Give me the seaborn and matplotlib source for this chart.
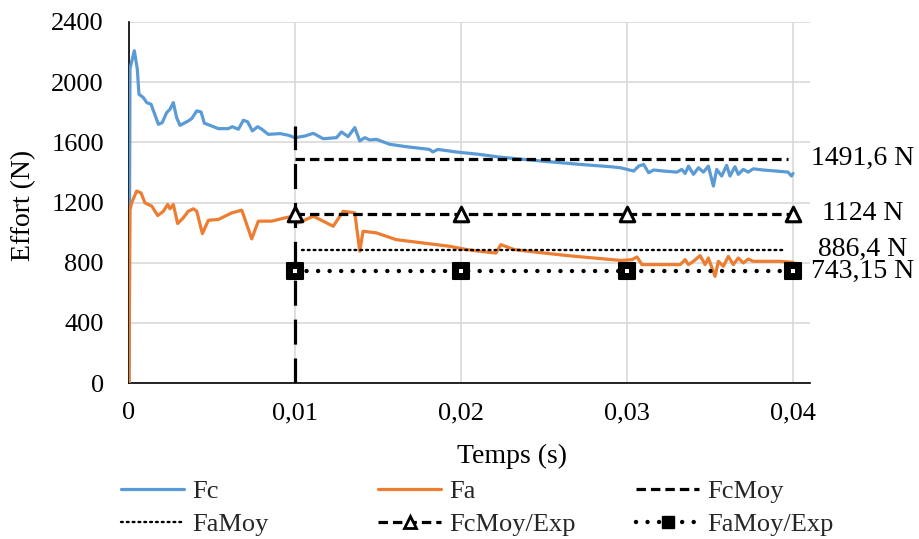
import matplotlib
matplotlib.use("Agg")
import matplotlib.pyplot as plt
from matplotlib.lines import Line2D
import seaborn as sns
import pandas as pd

# ---------------- data ----------------
fc_t = [0, 0.00006, 0.00032, 0.0005, 0.0006, 0.00086, 0.00107, 0.00133, 0.00177, 0.002,
        0.00227, 0.00247, 0.00267, 0.00287, 0.00307, 0.00357, 0.00378, 0.00408, 0.00434, 0.00454,
        0.00488, 0.00538, 0.00598, 0.00622, 0.00659, 0.00689, 0.00715, 0.00743, 0.00775, 0.008,
        0.00839, 0.0091, 0.0096, 0.01, 0.0106, 0.0111, 0.0117, 0.0125, 0.0128, 0.0132,
        0.0136, 0.0139, 0.0142, 0.0145, 0.0149, 0.0157, 0.0167, 0.0181, 0.0183, 0.0186,
        0.0197, 0.0211, 0.0223, 0.0248, 0.0272, 0.029, 0.0296, 0.0304, 0.0307, 0.031,
        0.0313, 0.0316, 0.0322, 0.033, 0.0333, 0.0335, 0.0337, 0.034, 0.0343, 0.0346,
        0.0349, 0.0352, 0.0354, 0.0357, 0.036, 0.0362, 0.0365, 0.0367, 0.037, 0.0373,
        0.0376, 0.0382, 0.039, 0.0397, 0.0399, 0.04]
fc_v = [0, 2090, 2209, 2087, 1920, 1898, 1864, 1853, 1720, 1731,
        1798, 1820, 1864, 1764, 1713, 1742, 1758, 1809, 1802, 1727,
        1713, 1691, 1691, 1704, 1687, 1747, 1736, 1676, 1704, 1687,
        1653, 1658, 1647, 1631, 1642, 1660, 1624, 1631, 1669, 1638,
        1698, 1609, 1631, 1616, 1620, 1587, 1571, 1553, 1536, 1553,
        1536, 1520, 1502, 1476, 1453, 1438, 1431, 1409, 1442, 1453,
        1398, 1416, 1409, 1402, 1420, 1393, 1442, 1387, 1431, 1402,
        1442, 1309, 1420, 1376, 1447, 1376, 1438, 1387, 1420, 1402,
        1424, 1416, 1409, 1402, 1376, 1393]

fa_t = [0, 0.00006, 0.00016, 0.00046, 0.00072, 0.00096, 0.00116, 0.00137, 0.00173, 0.00207,
        0.00233, 0.00247, 0.00267, 0.00293, 0.00327, 0.00357, 0.00388, 0.00408, 0.00442, 0.00478,
        0.00538, 0.00619, 0.00679, 0.00699, 0.00739, 0.00779, 0.0086, 0.0094, 0.0099, 0.0102,
        0.0111, 0.0123, 0.0129, 0.0136, 0.0139, 0.0141, 0.0149, 0.0161, 0.0177, 0.0193,
        0.0203, 0.0211, 0.0221, 0.0224, 0.0232, 0.025, 0.0264, 0.028, 0.0296, 0.0303,
        0.0306, 0.0309, 0.032, 0.0332, 0.0335, 0.0337, 0.034, 0.0344, 0.0347, 0.0349,
        0.0353, 0.0355, 0.0358, 0.0361, 0.0364, 0.0367, 0.037, 0.0373, 0.0376, 0.0384,
        0.0392, 0.04]
fa_v = [0, 1150, 1198, 1276, 1264, 1198, 1187, 1176, 1113, 1142,
        1187, 1158, 1187, 1060, 1098, 1142, 1158, 1142, 993, 1082,
        1087, 1131, 1149, 1087, 958, 1076, 1076, 1098, 1109, 1064,
        1109, 1042, 1142, 1131, 876, 1009, 998, 953, 931, 909,
        888, 876, 864, 920, 887, 864, 847, 831, 815, 820,
        838, 787, 787, 787, 820, 787, 809, 847, 787, 831,
        709, 809, 776, 842, 787, 831, 798, 824, 809, 809,
        809, 802]

fc_moy = 1491.6
fa_moy = 886.4
fc_moy_exp = 1124
fa_moy_exp = 743.15
moy_t = [0.01, 0.0397]
famoy_t = [0.0104, 0.0395]
exp_t = [0.01, 0.02, 0.03, 0.04]
marker_t = [0.01, 1710]

x_ticks = [0, 0.01, 0.02, 0.03, 0.04]
x_tick_labels = ["0", "0,01", "0,02", "0,03", "0,04"]
y_ticks = [0, 400, 800, 1200, 1600, 2000, 2400]
value_labels = ["1491,6 N", "1124 N", "886,4 N", "743,15 N"]
value_levels = [fc_moy, fc_moy_exp, fa_moy, fa_moy_exp]
series_names = ["Fc", "Fa", "FcMoy", "FaMoy", "FcMoy/Exp", "FaMoy/Exp"]

# ---------------- style ----------------
sns.set_theme(style="white")
plt.rcParams["font.family"] = ["Liberation Serif", "DejaVu Serif"]
plt.rcParams["lines.scale_dashes"] = False

BLUE = "#5B9BD5"
ORANGE = "#ED7D31"
FS = 19

W, H = 920, 539
fig = plt.figure(figsize=(W / 100, H / 100), dpi=100)
ax = fig.add_axes([129 / W, 1 - 383 / H, (810 - 129) / W, (383 - 22) / H])

DASH = (0, (6.8, 3.6))
DOT_SMALL = (0, (1.3, 2.9))
DOT_BIG = (0, (0.01, 8.3))

df_fc = pd.DataFrame({"t": fc_t, "v": fc_v})
df_fa = pd.DataFrame({"t": fa_t, "v": fa_v})
sns.lineplot(data=df_fc, x="t", y="v", ax=ax, color=BLUE, lw=2.3, sort=False, estimator=None, zorder=3)
sns.lineplot(data=df_fa, x="t", y="v", ax=ax, color=ORANGE, lw=2.3, sort=False, estimator=None, zorder=3)

# vertical marker line at 0.01
sns.lineplot(x=[exp_t[0], exp_t[0]], y=[0, marker_t[1]], ax=ax, color="black", lw=2.3,
             linestyle=(0, (18, 10)), sort=False, estimator=None, zorder=4)

# mean lines
sns.lineplot(x=moy_t, y=[fc_moy] * 2, ax=ax, color="black", lw=2.3, linestyle=DASH,
             sort=False, estimator=None, zorder=4)
sns.lineplot(x=famoy_t, y=[fa_moy] * 2, ax=ax, color="black", lw=1.7, linestyle=DOT_SMALL,
             sort=False, estimator=None, zorder=4)
ax.get_lines()[-1].set_dash_capstyle("round")
sns.lineplot(x=exp_t, y=[fc_moy_exp] * 4, ax=ax, color="black", lw=2.3, linestyle=DASH,
             sort=False, estimator=None, zorder=4)
sns.lineplot(x=exp_t, y=[fa_moy_exp] * 4, ax=ax, color="black", lw=3.2, linestyle=DOT_BIG,
             sort=False, estimator=None, zorder=4)
ax.get_lines()[-1].set_dash_capstyle("round")

sns.scatterplot(x=exp_t, y=[fc_moy_exp] * 4, ax=ax, marker="^", s=110, color="white",
                edgecolor="black", linewidth=2.2, zorder=5)
sns.scatterplot(x=exp_t, y=[fa_moy_exp] * 4, ax=ax, marker="s", s=120, color="black",
                edgecolor="black", linewidth=1.5, zorder=5)
sns.scatterplot(x=exp_t, y=[fa_moy_exp] * 4, ax=ax, marker="s", s=10, color="white",
                edgecolor="none", linewidth=0, zorder=6)

# axes
ax.set_xlim(0, 0.04102)
ax.set_ylim(0, 2400)
ax.set_xticks(x_ticks)
ax.set_xticklabels(x_tick_labels)
ax.set_yticks(y_ticks)
ax.set_yticklabels([str(v) for v in y_ticks])
ax.tick_params(axis="both", direction="in", length=5, width=1.2, colors="black", labelsize=FS)
ax.tick_params(axis="y", pad=18)
ax.tick_params(axis="x", pad=14)
ax.grid(True, color="#d9d9d9", lw=1.2, zorder=0)
ax.set_axisbelow(True)
for s in ["top", "right"]:
    ax.spines[s].set_visible(False)
for s in ["left", "bottom"]:
    ax.spines[s].set_color("black")
    ax.spines[s].set_linewidth(1.2)

ax.set_xlabel("Temps (s)", fontsize=FS + 1, color="black")
ax.xaxis.set_label_coords((512 - 129) / (810 - 129), (383 - 456) / (383 - 22))
ax.xaxis.label.set_va("center")
ax.set_ylabel("Effort (N)", fontsize=FS + 1, color="black")
ax.yaxis.set_label_coords((24 - 129) / (810 - 129), (383 - 205) / (383 - 22))
ax.yaxis.label.set_va("center")

for lab, lev in zip(value_labels, value_levels):
    ax.text(0.04418, lev, lab, ha="center", va="center", fontsize=FS + 1, color="black",
            clip_on=False)

# legend
h_fc = Line2D([], [], color=BLUE, lw=2.3)
h_fa = Line2D([], [], color=ORANGE, lw=2.3)
h_fcm = Line2D([], [], color="black", lw=2.3, linestyle=DASH)
h_fam = Line2D([], [], color="black", lw=1.7, linestyle=DOT_SMALL, dash_capstyle="round")
h_fce = Line2D([], [], color="black", lw=2.3, linestyle=DASH, marker="^", markersize=9,
               markerfacecolor="white", markeredgecolor="black", markeredgewidth=2.0)
h_fae = Line2D([], [], color="black", lw=3.2, linestyle=DOT_BIG, dash_capstyle="round",
               marker="s", markersize=9, markerfacecolor="black", markeredgecolor="black")
cols = [([h_fc, h_fam], [series_names[0], series_names[3]], 121),
        ([h_fa, h_fce], [series_names[1], series_names[4]], 378),
        ([h_fcm, h_fae], [series_names[2], series_names[5]], 636)]
for hs, ls, xpx in cols:
    fig.legend(handles=hs, labels=ls, loc="upper left", bbox_to_anchor=(xpx / W, 1 - 480 / H),
               frameon=False, fontsize=FS, handlelength=2.4, handletextpad=0.3,
               labelspacing=0.35, borderpad=0, borderaxespad=0, numpoints=1)

fig.savefig("out.png", dpi=100)
